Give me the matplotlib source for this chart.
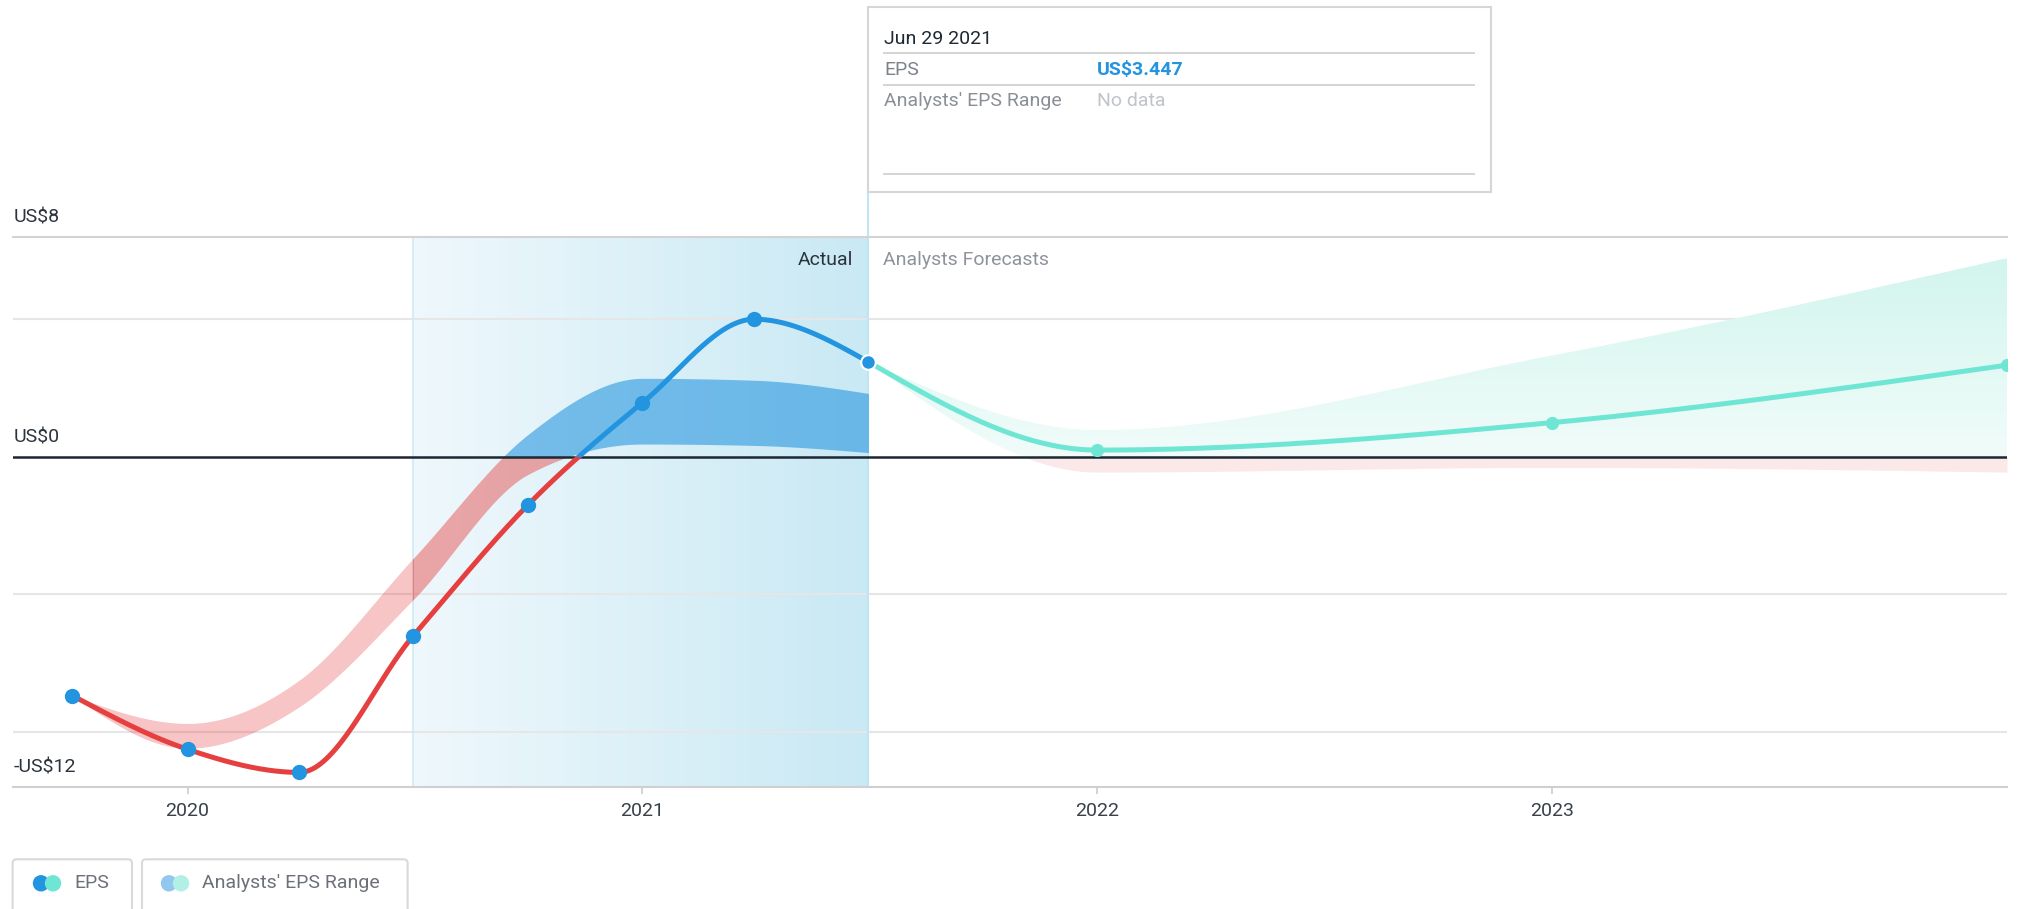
import numpy as np
import matplotlib
matplotlib.use("Agg")
import matplotlib.pyplot as plt
from matplotlib.colors import LinearSegmentedColormap
from matplotlib.patches import Rectangle, FancyBboxPatch, Circle, Polygon

plt.rcParams['font.family'] = ['Roboto', 'DejaVu Sans']

# ---- data ----
quarters = [2019.747, 2020.0, 2020.246, 2020.496, 2020.748, 2021.0, 2021.246, 2021.497]
eps_actual = [-8.69, -10.64, -11.48, -6.52, -1.76, 1.96, 5.0, 3.447]
range_high = [-8.69, -9.70, -8.12, -3.7, 0.8, 2.85, 2.78, 2.30]
range_low = [-8.69, -10.6, -9.09, -5.2, -0.65, 0.46, 0.41, 0.15]

forecast_years = [2021.497, 2022.0, 2023.0, 2024.0]
eps_forecast = [3.447, 0.24, 1.24, 3.33]
forecast_high = [3.447, 0.97, 3.68, 7.22]
forecast_low = [3.447, -0.56, -0.39, -0.56]

year_ticks = [2020, 2021, 2022, 2023]
grid_levels = [-10, -5, 5]
y_labels = [8, 0, -12]
y_label_text = ["US$8", "US$0", "-US$12"]

hl_start = 2020.496
hl_end = 2021.497

BLUE = '#2394df'
RED = '#e5403f'
TEAL = '#6fe6d4'

W, H = 2019, 909


def monotone_x(x, y, n=80):
    # same smoothing as d3.curveMonotoneX
    x = np.asarray(x, float)
    y = np.asarray(y, float)
    h = np.diff(x)
    s = np.diff(y) / h
    m = np.zeros_like(y)
    for i in range(1, len(y) - 1):
        p = (s[i - 1] * h[i] + s[i] * h[i - 1]) / (h[i - 1] + h[i])
        m[i] = (np.sign(s[i - 1]) + np.sign(s[i])) * min(abs(s[i - 1]), abs(s[i]), 0.5 * abs(p))
    m[0] = (3 * s[0] - m[1]) / 2
    m[-1] = (3 * s[-1] - m[-2]) / 2
    xs, ys = [], []
    for i in range(len(h)):
        t = np.linspace(0, 1, n, endpoint=(i == len(h) - 1))
        h00 = 2 * t**3 - 3 * t**2 + 1
        h10 = t**3 - 2 * t**2 + t
        h01 = -2 * t**3 + 3 * t**2
        h11 = t**3 - t**2
        xs.append(x[i] + t * h[i])
        ys.append(h00 * y[i] + h10 * h[i] * m[i] + h01 * y[i + 1] + h11 * h[i] * m[i + 1])
    return np.concatenate(xs), np.concatenate(ys)


fig = plt.figure(figsize=(W / 100, H / 100), dpi=100)
ax = fig.add_axes([13.3 / W, (H - 786.7) / H, (2007 - 13.3) / W, 550 / H])
x0, x1 = 2019.617, 2024.0
y0, y1 = -12, 8

# highlighted last-year region
hl_cmap = LinearSegmentedColormap.from_list('hl', ['#eff8fc', '#c9e9f4'])
ax.imshow(np.linspace(0, 1, 256).reshape(1, -1), extent=[hl_start, hl_end, y0, y1],
          aspect='auto', cmap=hl_cmap, zorder=0.2, interpolation='bilinear')
ax.axvline(hl_start, color='#cfeaf4', lw=1.2, zorder=0.6)

# past analysts range
rx, rhi = monotone_x(quarters, range_high)
_, rlo = monotone_x(quarters, range_low)
red_out = ax.fill_between(rx, np.minimum(rlo, 0), np.minimum(rhi, 0), color=RED, alpha=0.3, lw=0, zorder=2)
red_out.set_clip_path(Rectangle((x0, y0), hl_start - x0, 30, transform=ax.transData))
red_in = ax.fill_between(rx, np.minimum(rlo, 0), np.minimum(rhi, 0), color=RED, alpha=0.45, lw=0, zorder=2)
red_in.set_clip_path(Rectangle((hl_start, y0), 10, 30, transform=ax.transData))
ax.fill_between(rx, np.maximum(rlo, 0), np.maximum(rhi, 0), color=BLUE, alpha=0.58, lw=0, zorder=2)

# forecast range
fbx, fbhi = monotone_x(forecast_years, forecast_high)
_, fblo = monotone_x(forecast_years, forecast_low)
ax.fill_between(fbx, np.minimum(fblo, 0), np.minimum(fbhi, 0), color='#fbe8e8', lw=0, zorder=2)
verts = np.column_stack([np.r_[fbx, fbx[::-1]],
                         np.r_[np.maximum(fbhi, 0), np.maximum(fblo, 0)[::-1]]])
poly = Polygon(verts, closed=True, facecolor='none', edgecolor='none', transform=ax.transData)
ax.add_patch(poly)
teal_cmap = LinearSegmentedColormap.from_list('tl', ['#f1fcfa', '#d2f5ed'])
im = ax.imshow(np.linspace(0, 1, 256).reshape(-1, 1), extent=[fbx[0], fbx[-1], 0, fbhi.max()],
               origin='lower', aspect='auto', cmap=teal_cmap, zorder=2)
im.set_clip_path(poly)

ax.axhline(0, color='#1d2733', lw=1.8, zorder=3)

# EPS line, red below zero and blue above
ex, ey = monotone_x(quarters, eps_actual)
lb, = ax.plot(ex, ey, color=BLUE, lw=3.6, zorder=4)
lb.set_clip_path(Rectangle((x0, 0), 10, 30, transform=ax.transData))
lr, = ax.plot(ex, ey, color=RED, lw=3.6, zorder=4)
lr.set_clip_path(Rectangle((x0, -30), 10, 30, transform=ax.transData))

fx, fy = monotone_x(forecast_years, eps_forecast)
ax.plot(fx, fy, color=TEAL, lw=3.6, zorder=4)
ax.plot(forecast_years[1:], eps_forecast[1:], 'o', ms=8.5, color=TEAL, zorder=5)

ax.plot(quarters[:-1], eps_actual[:-1], 'o', ms=10, color=BLUE, zorder=5)
ax.plot(quarters[-1], eps_actual[-1], 'o', ms=10.5, mfc=BLUE, mec='white', mew=1.5, zorder=6)

ax.set_xlim(x0, x1)
ax.set_ylim(y0, y1)

# cursor line up to the tooltip box
y_top = ax.transData.inverted().transform((0, H - 191.7))[1]
ax.plot([hl_end, hl_end], [y0, y_top], color='#bfe5f2', lw=1.5, clip_on=False, zorder=0.6)

ax.annotate('Actual', xy=(hl_end, y1), xytext=(-11, -20.4), textcoords='offset points',
            ha='right', va='baseline', fontsize=14, color='#2b333d')
ax.annotate('Analysts Forecasts', xy=(hl_end, y1), xytext=(10.3, -20.4), textcoords='offset points',
            ha='left', va='baseline', fontsize=14, color='#8e939a')

# axes styling
ax.set_yticks(grid_levels)
ax.grid(axis='y', color='#e6e6e6', lw=1.5)
ax.set_axisbelow(True)
ax.tick_params(axis='y', left=False, labelleft=False)
ax.set_xticks(year_ticks)
ax.set_xticklabels([str(y) for y in year_ticks])
ax.tick_params(axis='x', length=5, width=1.2, color='#cccccc', labelsize=14,
               labelcolor='#39404a', pad=6)
for side in ['left', 'right']:
    ax.spines[side].set_visible(False)
ax.spines['top'].set_color('#d3d3d3')
ax.spines['top'].set_linewidth(1.5)
ax.spines['bottom'].set_color('#d0d0d0')
ax.spines['bottom'].set_linewidth(1.5)
ax.patch.set_visible(False)

for val, txt in zip(y_labels, y_label_text):
    ax.annotate(txt, xy=(0, val), xycoords=('axes fraction', 'data'), xytext=(0, 10.5),
                textcoords='offset points', ha='left', va='baseline', fontsize=14, color='#2c333c')

# overlay in pixel coordinates: tooltip and legend
ov = fig.add_axes([0, 0, 1, 1], zorder=10)
ov.set_xlim(0, W)
ov.set_ylim(H, 0)
ov.axis('off')
ov.patch.set_visible(False)

ov.add_patch(Rectangle((868.3, 7.3), 622.4, 184.4, facecolor='white', edgecolor='#d6d6d6', lw=1.5))
ov.text(884, 44, 'Jun 29 2021', fontsize=14, color='#1f2933', va='baseline')
for yy in [53.3, 85, 174.3]:
    ov.plot([884, 1474], [yy, yy], color='#d4d4d4', lw=1.4)
ov.text(884, 75, 'EPS', fontsize=14, color='#7c828a', va='baseline')
ov.text(1097, 75, 'US$3.447', fontsize=14, color=BLUE, va='baseline', fontweight='bold')
ov.text(884, 106, "Analysts' EPS Range", fontsize=14, color='#8a8f96', va='baseline')
ov.text(1097, 106, 'No data', fontsize=14, color='#c0c4c8', va='baseline')

ov.add_patch(FancyBboxPatch((12.6, 859.3), 119.4, 60, boxstyle='round,pad=0,rounding_size=4',
                            facecolor='white', edgecolor='#d9d9d9', lw=1.5))
ov.add_patch(FancyBboxPatch((142, 859.3), 265.6, 60, boxstyle='round,pad=0,rounding_size=4',
                            facecolor='white', edgecolor='#d9d9d9', lw=1.5))
ov.add_patch(Circle((41, 883.3), 7.5, color=BLUE))
ov.add_patch(Circle((53, 883.3), 7.5, color=TEAL))
ov.text(74.6, 883.3, 'EPS', fontsize=14, color='#6b7079', va='center')
ov.add_patch(Circle((169, 883.3), 7.5, color='#92c8ee'))
ov.add_patch(Circle((181, 883.3), 7.5, color='#b2f0e6'))
ov.text(202, 883.3, "Analysts' EPS Range", fontsize=14, color='#6b7079', va='center')

fig.savefig('out.png', dpi=100)
